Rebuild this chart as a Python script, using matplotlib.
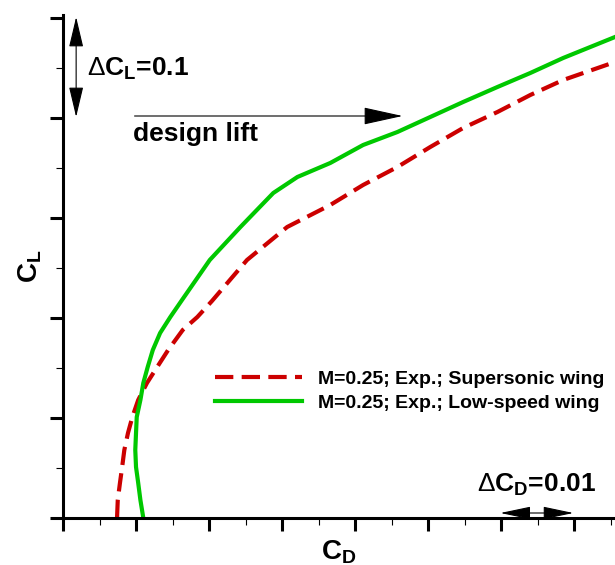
import matplotlib
matplotlib.use('Agg')
import matplotlib.pyplot as plt
from matplotlib.ticker import MultipleLocator, NullFormatter

plt.rcParams['font.family'] = ['Liberation Sans', 'DejaVu Sans']
plt.rcParams['mathtext.fontset'] = 'custom'
plt.rcParams['mathtext.rm'] = 'Liberation Sans'
plt.rcParams['mathtext.bf'] = 'Liberation Sans:bold'
plt.rcParams['mathtext.it'] = 'Liberation Sans:italic'

# ========== 数据 ==========
# 低速机翼 (绿色实线)
cd_low = [0.0110, 0.0106, 0.0103, 0.0100, 0.0099, 0.0100, 0.0101, 0.0106, 0.0110,
          0.0116, 0.0123, 0.0133, 0.0147, 0.0163, 0.0201, 0.0243, 0.0288, 0.0321,
          0.0366, 0.0411, 0.0458, 0.0503, 0.0548, 0.0595, 0.0640, 0.0685, 0.0756]
cl_low = [0.000, 0.018, 0.035, 0.051, 0.068, 0.085, 0.101, 0.118, 0.135,
          0.151, 0.168, 0.185, 0.201, 0.218, 0.258, 0.291, 0.325, 0.341,
          0.355, 0.373, 0.386, 0.401, 0.416, 0.431, 0.445, 0.460, 0.481]

# 超声速机翼 (红色虚线)
cd_sup = [0.0074, 0.0075, 0.0078, 0.0081, 0.0084, 0.0089, 0.0095, 0.0103, 0.0115,
          0.0129, 0.0144, 0.0164, 0.0184, 0.0204, 0.0252, 0.0307, 0.0366,
          0.0411, 0.0458, 0.0503, 0.0548, 0.0595, 0.0640, 0.0685, 0.0756]
cl_sup = [0.000, 0.018, 0.035, 0.051, 0.068, 0.085, 0.101, 0.118, 0.135,
          0.151, 0.168, 0.188, 0.201, 0.217, 0.258, 0.291, 0.313,
          0.333, 0.351, 0.371, 0.390, 0.406, 0.423, 0.438, 0.456]

label_sup = 'M=0.25; Exp.; Supersonic wing'
label_low = 'M=0.25; Exp.; Low-speed wing'

# ========== 画图 ==========
fig = plt.figure(figsize=(6.15, 5.65), dpi=100)
ax = fig.add_axes([63 / 615, 47 / 565, 552 / 615, 503 / 565])

ax.plot(cd_sup, cl_sup, color='#cc0000', linewidth=3.0,
        linestyle=(0, (4.4, 2.0)), label=label_sup, solid_joinstyle='round')
ax.plot(cd_low, cl_low, color='#00c800', linewidth=3.0, label=label_low,
        solid_joinstyle='round')

ax.set_xlim(0, 0.0756)
ax.set_ylim(0, 0.503)

for side in ['top', 'right']:
    ax.spines[side].set_visible(False)
for side in ['left', 'bottom']:
    ax.spines[side].set_linewidth(2.2)

ax.xaxis.set_major_locator(MultipleLocator(0.01))
ax.xaxis.set_minor_locator(MultipleLocator(0.005))
ax.yaxis.set_major_locator(MultipleLocator(0.1))
ax.yaxis.set_minor_locator(MultipleLocator(0.05))
ax.xaxis.set_major_formatter(NullFormatter())
ax.yaxis.set_major_formatter(NullFormatter())
ax.tick_params(which='major', direction='out', length=9.5, width=2.2)
ax.tick_params(which='minor', direction='out', length=5, width=0.8)

ax.set_xlabel(r'$\mathbf{C_D}$', fontsize=20, labelpad=2)
ax.set_ylabel(r'$\mathbf{C_L}$', fontsize=20, labelpad=1)

# ΔCL 双箭头
ax.annotate('', xy=(0.0018, 0.501), xytext=(0.0018, 0.401),
            arrowprops=dict(arrowstyle='<|-|>,head_length=1.9,head_width=0.45',
                            mutation_scale=10, color='black', lw=0.8,
                            shrinkA=0, shrinkB=0))
ax.text(0.0033, 0.449, r'$\Delta\mathbf{C_L}$=0.1', fontsize=19, fontweight='bold',
        ha='left', va='center')

# 设计升力
ax.annotate('', xy=(0.0465, 0.402), xytext=(0.0098, 0.402),
            arrowprops=dict(arrowstyle='-|>,head_length=2.5,head_width=0.55',
                            mutation_scale=10, color='black', lw=0.8,
                            shrinkA=0, shrinkB=0))
ax.text(0.0096, 0.384, 'design lift', fontsize=19, fontweight='bold',
        ha='left', va='center')

# ΔCD 双箭头
ax.annotate('', xy=(0.0699, 0.005), xytext=(0.0599, 0.005),
            arrowprops=dict(arrowstyle='<|-|>,head_length=1.9,head_width=0.4',
                            mutation_scale=10, color='black', lw=0.8,
                            shrinkA=0, shrinkB=0),
            annotation_clip=False)
ax.text(0.0567, 0.033, r'$\Delta\mathbf{C_D}$=0.01', fontsize=19, fontweight='bold',
        ha='left', va='center')

leg = ax.legend(loc='center left', bbox_to_anchor=(0.275, 0.2525),
                frameon=False, prop={'weight': 'bold', 'size': 14},
                handlelength=4.5, handletextpad=0.8, labelspacing=0.3,
                borderpad=0, borderaxespad=0)

fig.savefig('out.png', dpi=100)
